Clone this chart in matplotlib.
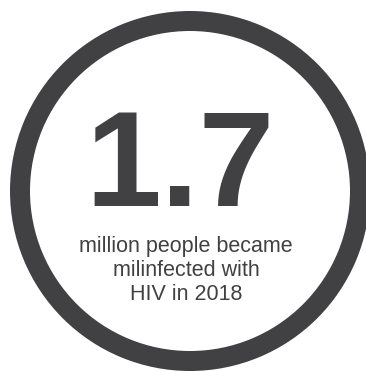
import matplotlib
matplotlib.use("Agg")
import matplotlib.pyplot as plt
from matplotlib.patches import Annulus

# chart content
big_value = "1.7"
caption_lines = ["million people became", "milinfected with", "HIV in 2018"]

ink = "#414143"

W, H = 366, 371
fig = plt.figure(figsize=(W / 100, H / 100), dpi=100)
ax = fig.add_axes([0, 0, 1, 1])
ax.set_xlim(0, W)
ax.set_ylim(H, 0)
ax.set_aspect("equal")
ax.axis("off")

# ring
ring = Annulus((190, 191), 180, 20, facecolor=ink, edgecolor="none")
ax.add_patch(ring)

# big number
ax.text(180, 206, big_value, ha="center", va="baseline",
        fontsize=98, fontweight="bold", family="Liberation Sans", color=ink)

# caption
for i, line in enumerate(caption_lines):
    ax.text(186, 252 + i * 24, line, ha="center", va="baseline",
            fontsize=15.5, family="Liberation Sans", color=ink)

fig.savefig("out.png", dpi=100)
